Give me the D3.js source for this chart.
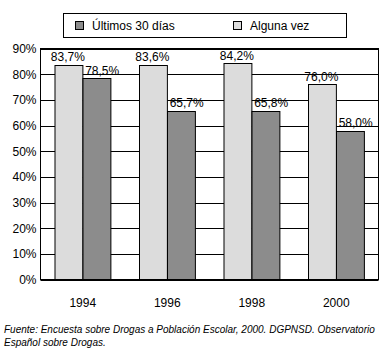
<!DOCTYPE html>
<html>
<head>
<meta charset="utf-8">
<script src="https://cdn.jsdelivr.net/npm/d3@7"></script>
<style>
  body { margin: 0; background: #fff; }
  svg text { font-family: "Liberation Sans", Arial, sans-serif; fill: #000; }
  .foot { font-style: italic; font-size: 10px; }
</style>
</head>
<body>
<div id="chart"></div>
<script>
// data
const years = ["1994", "1996", "1998", "2000"];
const alguna = [83.7, 83.6, 84.2, 76.0];
const ultimos = [78.5, 65.7, 65.8, 58.0];
const seriesNames = ["Alguna vez", "Últimos 30 días"];
const legendOrder = ["Últimos 30 días", "Alguna vez"];
const yTicks = [0, 10, 20, 30, 40, 50, 60, 70, 80, 90];
const footLines = [
    "Fuente: Encuesta sobre Drogas a Población Escolar, 2000. DGPNSD. Observatorio",
    "Español sobre Drogas."
];

const colors = { "Alguna vez": "#dcdcdc", "Últimos 30 días": "#8c8c8c" };

const W = 389, H = 358;
const plot = { left: 40.5, right: 378.5, top: 48.5, bottom: 279.5 };

const svg = d3.select("#chart").append("svg")
    .attr("width", W)
    .attr("height", H);

const x = d3.scaleBand()
    .domain(years)
    .range([plot.left, plot.right]);

// the two bars of a year take the middle two thirds of the band
const xSub = d3.scaleBand()
    .domain(seriesNames)
    .range([x.bandwidth() * 0.17, x.bandwidth() * 0.83]);

const y = d3.scaleLinear()
    .domain([0, 90])
    .range([plot.bottom, plot.top]);

// gridlines
svg.append("g").selectAll("line")
    .data(yTicks)
    .enter().append("line")
    .attr("x1", plot.left).attr("x2", plot.right)
    .attr("y1", d => Math.round(y(d)) + 0.5).attr("y2", d => Math.round(y(d)) + 0.5)
    .attr("stroke", "#000");

// plot border
svg.append("rect")
    .attr("x", plot.left).attr("y", plot.top)
    .attr("width", plot.right - plot.left).attr("height", plot.bottom - plot.top)
    .attr("fill", "none").attr("stroke", "#000");

// y axis labels
const yAxis = d3.axisLeft(y).tickValues(yTicks).tickSize(0).tickPadding(4)
    .tickFormat(d => d + "%");
const yg = svg.append("g").attr("transform", "translate(" + plot.left + ",0)").call(yAxis);
yg.select(".domain").remove();
yg.selectAll("text").style("font-size", "12px").attr("fill", "#000");

// bars
const rows = years.map((yr, i) => ({ year: yr, values: [
    { key: "Alguna vez", value: alguna[i] },
    { key: "Últimos 30 días", value: ultimos[i] }
] }));

const groups = svg.append("g").selectAll("g")
    .data(rows)
    .enter().append("g")
    .attr("transform", d => "translate(" + x(d.year) + ",0)");

groups.selectAll("rect")
    .data(d => d.values)
    .enter().append("rect")
    .attr("x", d => Math.round(xSub(d.key)) + 0.5)
    .attr("y", d => Math.round(y(d.value)) + 0.5)
    .attr("width", xSub.bandwidth())
    .attr("height", d => plot.bottom - Math.round(y(d.value)) - 0.5)
    .attr("fill", d => colors[d.key])
    .attr("stroke", "#000");

// value labels (dark bar labels sit a bit to the right)
groups.selectAll("text")
    .data(d => d.values)
    .enter().append("text")
    .attr("x", d => xSub(d.key) + xSub.bandwidth() / 2 + (d.key === "Alguna vez" ? -1 : 5.5))
    .attr("y", d => y(d.value) - 3.5)
    .attr("text-anchor", "middle")
    .style("font-size", "12px")
    .text(d => d.value.toFixed(1).replace(".", ",") + "%");

// x axis labels
svg.append("g").selectAll("text")
    .data(years)
    .enter().append("text")
    .attr("x", d => x(d) + x.bandwidth() / 2)
    .attr("y", 306.5)
    .attr("text-anchor", "middle")
    .style("font-size", "12px")
    .text(d => d);

// legend
const legend = svg.append("g");
legend.append("rect")
    .attr("x", 63.5).attr("y", 13.5)
    .attr("width", 283).attr("height", 24)
    .attr("fill", "#fff").attr("stroke", "#000");

const legendX = [75.5, 233.5];
const item = legend.selectAll(".item")
    .data(legendOrder)
    .enter().append("g")
    .attr("class", "item")
    .attr("transform", (d, i) => "translate(" + legendX[i] + ",21.5)");

item.append("rect")
    .attr("width", 8).attr("height", 8)
    .attr("fill", d => colors[d]).attr("stroke", "#000");

item.append("text")
    .attr("x", 16.5).attr("y", 8)
    .style("font-size", "12px")
    .text(d => d);

// source note
svg.append("g").selectAll("text")
    .data(footLines)
    .enter().append("text")
    .attr("class", "foot")
    .attr("x", 4)
    .attr("y", (d, i) => 333 + i * 13)
    .text(d => d);
</script>
</body>
</html>
